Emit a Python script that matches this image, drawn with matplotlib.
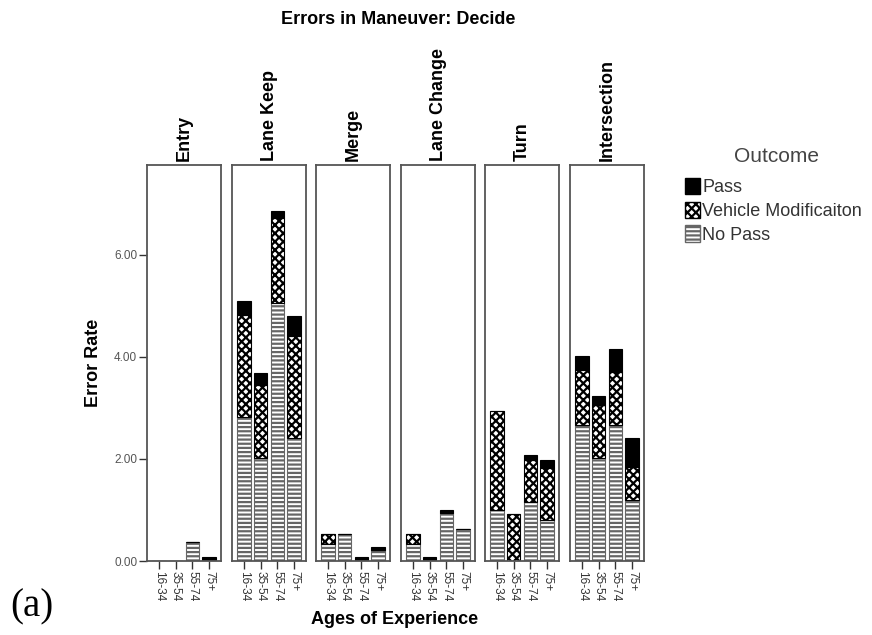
import matplotlib.pyplot as plt
from matplotlib.patches import Patch
import numpy as np

plt.rcParams['font.family'] = ['Liberation Sans', 'DejaVu Sans']
plt.rcParams['hatch.linewidth'] = 1.6

maneuvers = ['Entry', 'Lane Keep', 'Merge', 'Lane Change', 'Turn', 'Intersection']
ages = ['16-34', '35-54', '55-74', '75+']

# error rate per maneuver, one value per age group
no_pass = [
    [0.0, 0.0, 0.37, 0.0],
    [2.83, 2.01, 5.06, 2.41],
    [0.33, 0.53, 0.0, 0.22],
    [0.33, 0.0, 0.95, 0.63],
    [1.00, 0.0, 1.16, 0.80],
    [2.67, 2.01, 2.67, 1.20],
]
vehicle_mod = [
    [0.0, 0.0, 0.0, 0.0],
    [1.99, 1.44, 1.66, 1.99],
    [0.20, 0.0, 0.0, 0.0],
    [0.20, 0.0, 0.0, 0.0],
    [1.93, 0.93, 0.82, 1.02],
    [1.08, 1.05, 1.04, 0.65],
]
passed = [
    [0.0, 0.0, 0.0, 0.07],
    [0.28, 0.23, 0.14, 0.41],
    [0.0, 0.0, 0.07, 0.05],
    [0.0, 0.07, 0.05, 0.0],
    [0.0, 0.0, 0.10, 0.16],
    [0.27, 0.18, 0.44, 0.56],
]

W, H = 872, 635
fig = plt.figure(figsize=(W / 100, H / 100), dpi=100)

lefts = [147, 232, 316, 401, 485, 570]
x = np.arange(len(ages))
frame = '#555555'

for i, name in enumerate(maneuvers):
    ax = fig.add_axes([lefts[i] / W, (H - 561) / H, 74 / W, 396 / H])
    npv = np.array(no_pass[i])
    vm = np.array(vehicle_mod[i])
    ps = np.array(passed[i])
    ax.bar(x, npv, 0.8, color='white', edgecolor='#666666', hatch='----', linewidth=0.8)
    ax.bar(x, vm, 0.8, bottom=npv, color='white', edgecolor='black', hatch='xxxx', linewidth=0.8)
    ax.bar(x, ps, 0.8, bottom=npv + vm, color='black', edgecolor='black', linewidth=0.8)
    ax.set_xlim(-0.72, 3.72)
    ax.set_ylim(0, 7.76)
    ax.set_xticks(x)
    ax.set_xticklabels(ages, rotation=270, fontsize=8.5, color='#333333')
    ax.tick_params(axis='x', length=6, width=1, color='#333333', pad=1)
    for sp in ax.spines.values():
        sp.set_color(frame)
        sp.set_linewidth(1.3)
    if i == 0:
        ax.set_yticks([0, 2, 4, 6])
        ax.set_yticklabels(['0.00', '2.00', '4.00', '6.00'], fontsize=8.5, color='#555555')
        ax.tick_params(axis='y', length=6, width=1, color='#333333', pad=1)
        ax.set_ylabel('Error Rate', fontsize=13, fontweight='bold', labelpad=9)
    else:
        ax.set_yticks([])
    ax.text(0.5, 1.01, name, transform=ax.transAxes, rotation=90, ha='center', va='bottom',
            fontsize=13, fontweight='bold')

fig.text(398 / W, 1 - 20 / H, 'Errors in Maneuver: Decide', ha='center', va='center',
         fontsize=13, fontweight='bold')
fig.text(395 / W, 1 - 620 / H, 'Ages of Experience', ha='center', va='center',
         fontsize=13, fontweight='bold')
fig.text(10 / W, 1 - 607 / H, '(a)', ha='left', va='center', fontsize=28, family='Liberation Serif')

fig.text(776 / W, 1 - 157 / H, 'Outcome', ha='center', va='center', fontsize=15, color='#444444')
handles = [Patch(facecolor='black', edgecolor='black'),
           Patch(facecolor='white', edgecolor='black', hatch='xxxx'),
           Patch(facecolor='white', edgecolor='#666666', hatch='----')]
leg = fig.legend(handles, ['Pass', 'Vehicle Modificaiton', 'No Pass'],
                 loc='upper left', bbox_to_anchor=(685 / W, 1 - 178 / H), frameon=False,
                 fontsize=13, handlelength=0.85, handleheight=1.0,
                 handletextpad=0.1, labelspacing=0.3, borderaxespad=0, borderpad=0)
for t in leg.get_texts():
    t.set_color('#333333')

fig.savefig('out.png', dpi=100)
